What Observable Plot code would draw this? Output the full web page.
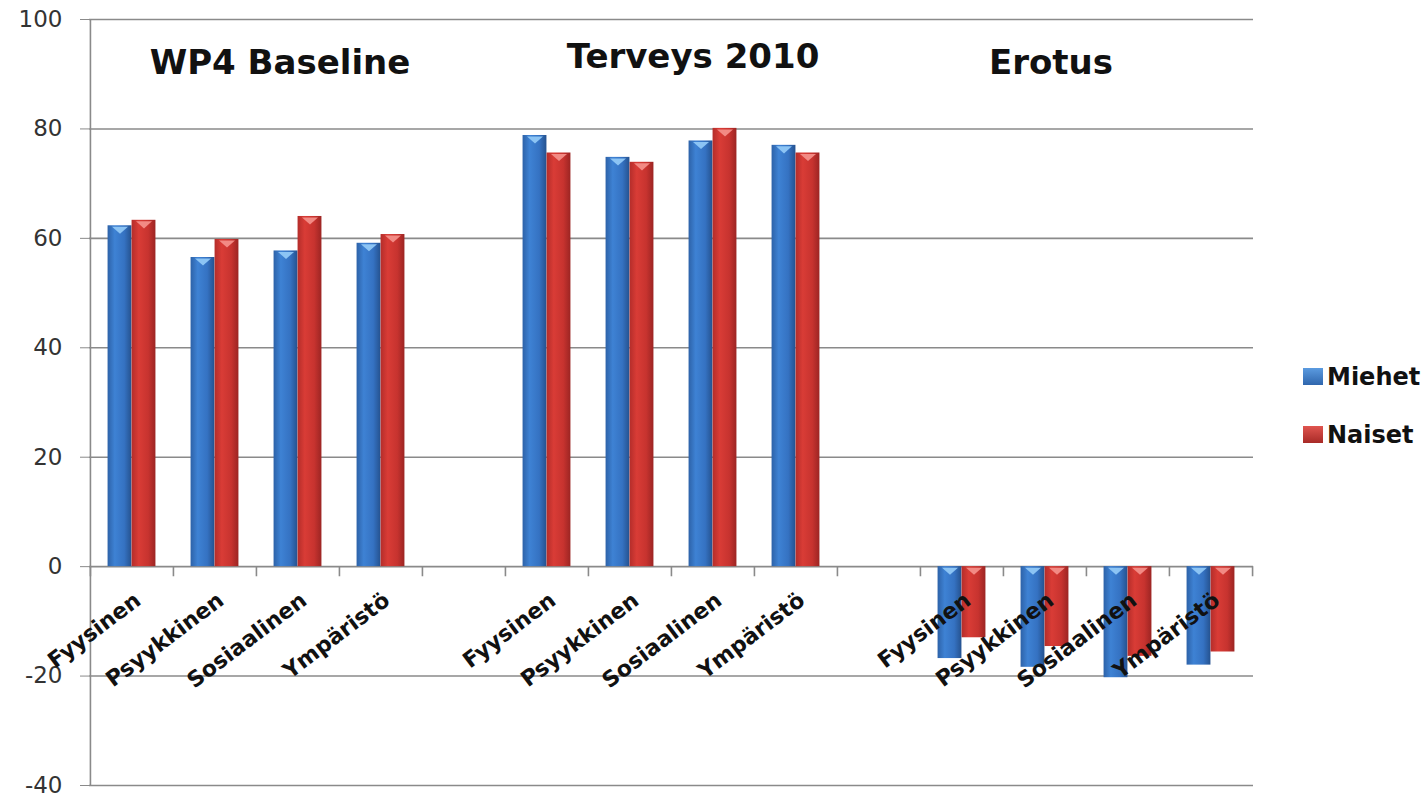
<!DOCTYPE html>
<html>
<head>
<meta charset="utf-8">
<script src="https://cdn.jsdelivr.net/npm/d3@7"></script>
<script src="https://cdn.jsdelivr.net/npm/@observablehq/plot@0.6"></script>
<style>
  body { margin: 0; background: #fff; }
  #wrap { position: relative; width: 1428px; height: 798px; overflow: hidden; }
  #legend { position: absolute; left: 1303px; top: 362px; font-family: "DejaVu Sans", sans-serif; font-weight: bold; font-size: 24px; color: #111; }
  .li { display: flex; align-items: center; height: 29px; margin-bottom: 29px; }
  .sw { width: 20px; height: 17px; margin-right: 4px; }
  svg [aria-label="y-axis tick"] { stroke: #8a8a8a; }
</style>
</head>
<body>
<div id="wrap">
  <div id="chart"></div>
  <div id="legend"></div>
</div>
<script>
// ---- data ----
const groups = ["WP4 Baseline", "Terveys 2010", "Erotus"];
const categories = ["Fyysinen", "Psyykkinen", "Sosiaalinen", "Ympäristö"];
const series = ["Miehet", "Naiset"];
const wp4Miehet = [62.3, 56.5, 57.7, 59.1];
const wp4Naiset = [63.3, 59.8, 64.0, 60.7];
const t2010Miehet = [78.8, 74.8, 77.8, 77.0];
const t2010Naiset = [75.6, 73.9, 80.1, 75.6];
const erotusMiehet = [-16.8, -18.4, -20.3, -18.0];
const erotusNaiset = [-13.0, -14.6, -16.4, -15.6];
const yTicks = [-40, -20, 0, 20, 40, 60, 80, 100];

// ---- build table ----
const valuesByGroup = [
  [wp4Miehet, wp4Naiset],
  [t2010Miehet, t2010Naiset],
  [erotusMiehet, erotusNaiset]
];
const domain = [];
groups.forEach((g, gi) => {
  categories.forEach(c => domain.push(g + "|" + c));
  if (gi < groups.length - 1) domain.push("gap" + gi);
});
const rows = [];
groups.forEach((g, gi) => {
  categories.forEach((c, ci) => {
    series.forEach((s, si) => {
      rows.push({key: g + "|" + c, group: g, category: c, series: s, value: valuesByGroup[gi][si][ci]});
    });
  });
});
const labelRows = [];
groups.forEach(g => categories.forEach(c => labelRows.push({key: g + "|" + c, label: c})));

// ---- layout ----
const W = 1428, H = 798;
const mL = 89, mR = 175, mT = 19, mB = 13;
const bw = (W - mL - mR) / domain.length;
const barW = 24;

const fills = {Miehet: "url(#gBlue)", Naiset: "url(#gRed)"};
const capFills = {Miehet: "#8cc4f4", Naiset: "#f28a84"};

const capSymbol = {
  draw(ctx, size) {
    const s = Math.sqrt(size);
    const w = 1.8 * s, h = 0.8 * s;
    ctx.moveTo(-w / 2, 0);
    ctx.lineTo(w / 2, 0);
    ctx.lineTo(0, h);
    ctx.closePath();
  }
};

const barMarks = series.map((s, si) => Plot.barY(rows.filter(d => d.series === s), {
  x: "key", y: "value", fill: fills[s],
  insetLeft: si === 0 ? bw / 2 - barW : bw / 2,
  insetRight: si === 0 ? bw / 2 : bw / 2 - barW
}));
const capMarks = series.map((s, si) => Plot.dot(rows.filter(d => d.series === s), {
  x: "key", y: d => Math.max(d.value, 0), symbol: capSymbol, r: 5,
  fill: capFills[s], stroke: null, dx: si === 0 ? -barW / 2 : barW / 2, dy: 1
}));

const titleMarks = [
  Plot.text([groups[0]], {x: () => domain[2], y: () => 92, text: d => d, dx: -18}),
  Plot.text([groups[1]], {x: () => domain[7], y: () => 93.1, text: d => d, dx: -20}),
  Plot.text([groups[2]], {x: () => domain[11], y: () => 92, text: d => d, dx: 6})
];

const chart = Plot.plot({
  width: W, height: H,
  marginLeft: mL, marginRight: mR, marginTop: mT, marginBottom: mB,
  style: {fontFamily: "DejaVu Sans, sans-serif", background: "#fff", color: "#111"},
  x: {type: "band", domain, padding: 0, axis: null},
  y: {domain: [-40, 100], axis: null},
  marks: [
    Plot.ruleY(yTicks, {stroke: "#8a8a8a", strokeWidth: 1.6}),
    Plot.ruleX([domain[0]], {dx: -bw / 2, y1: -40, y2: 100, stroke: "#8a8a8a", strokeWidth: 1.6}),
    Plot.ruleX(domain, {dx: -bw / 2, y1: 0, y2: -1.85, stroke: "#8a8a8a", strokeWidth: 1.6}),
    Plot.ruleX([domain[domain.length - 1]], {dx: bw / 2, y1: 0, y2: -1.85, stroke: "#8a8a8a", strokeWidth: 1.6}),
    Plot.axisY({ticks: yTicks, tickSize: 9, tickPadding: 18, fontSize: 23, fill: "#333", label: null, tickFormat: d => String(d)}),
    ...barMarks,
    ...capMarks,
    Plot.text(labelRows, {
      x: "key", y: () => 0, text: "label", rotate: -37, textAnchor: "end", lineAnchor: "middle",
      dx: 6, dy: 31, fontSize: 22, fontWeight: "bold", fill: "#111"
    }),
    ...titleMarks
  ]
});

// gradients
const ns = "http://www.w3.org/2000/svg";
const defs = document.createElementNS(ns, "defs");
defs.innerHTML = `
<linearGradient id="gBlue" x1="0" x2="1" y1="0" y2="0">
  <stop offset="0" stop-color="#2d62a8"/>
  <stop offset="0.3" stop-color="#3e82d4"/>
  <stop offset="0.7" stop-color="#3572c2"/>
  <stop offset="1" stop-color="#25528f"/>
</linearGradient>
<linearGradient id="gRed" x1="0" x2="1" y1="0" y2="0">
  <stop offset="0" stop-color="#b42d2a"/>
  <stop offset="0.3" stop-color="#d93c36"/>
  <stop offset="0.7" stop-color="#c7332f"/>
  <stop offset="1" stop-color="#9c2523"/>
</linearGradient>`;
chart.insertBefore(defs, chart.firstChild);

// style titles (last three text groups)
const textGroups = chart.querySelectorAll('g[aria-label="text"]');
for (let i = textGroups.length - 3; i < textGroups.length; i++) {
  textGroups[i].setAttribute("font-size", "34");
  textGroups[i].setAttribute("font-weight", "bold");
  textGroups[i].setAttribute("fill", "#111");
}
document.getElementById("chart").appendChild(chart);

// legend
const legend = document.getElementById("legend");
const swColors = {Miehet: "linear-gradient(#5b9be0,#2f66ad)", Naiset: "linear-gradient(#e0554f,#a82a27)"};
series.forEach(s => {
  const row = document.createElement("div");
  row.className = "li";
  const sw = document.createElement("div");
  sw.className = "sw";
  sw.style.background = swColors[s];
  const t = document.createElement("span");
  t.textContent = s;
  row.appendChild(sw); row.appendChild(t);
  legend.appendChild(row);
});
</script>
</body>
</html>
